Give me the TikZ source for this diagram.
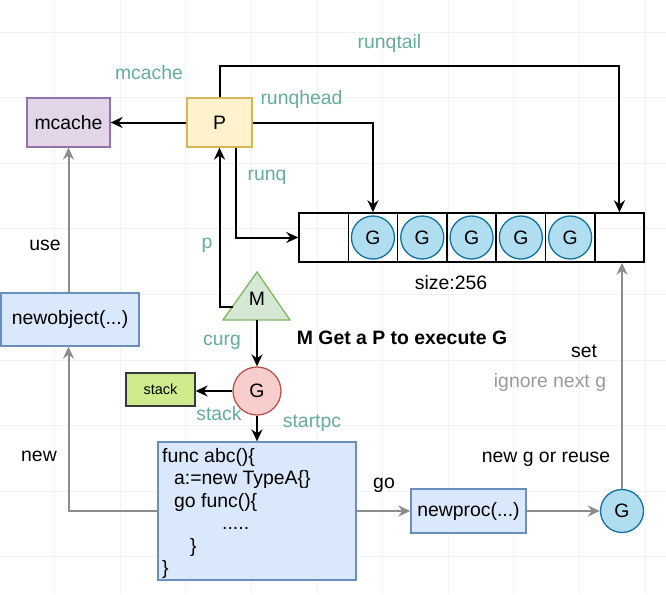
\documentclass[tikz,border=0pt]{standalone}
\usepackage{fontspec}
\setmainfont{Liberation Sans}
\usetikzlibrary{arrows.meta,calc}
\definecolor{lbl}{HTML}{67AB9F}
\definecolor{gline}{HTML}{8C8C8C}
\definecolor{gtext}{HTML}{999999}
\definecolor{gridc}{HTML}{F2F2F2}
\definecolor{mcfill}{HTML}{E1D5E7}\definecolor{mcdraw}{HTML}{9673A6}
\definecolor{pfill}{HTML}{FFF2CC}\definecolor{pdraw}{HTML}{D6B656}
\definecolor{mfill}{HTML}{D5E8D4}\definecolor{mdraw}{HTML}{82B366}
\definecolor{rfill}{HTML}{F8CECC}\definecolor{rdraw}{HTML}{B85450}
\definecolor{sfill}{HTML}{CDEB8B}\definecolor{sdraw}{HTML}{36393D}
\definecolor{bfill}{HTML}{DAE8FC}\definecolor{bdraw}{HTML}{6C8EBF}
\definecolor{gfill}{HTML}{B1DDF0}\definecolor{gdraw}{HTML}{10739E}
\begin{document}
\begin{tikzpicture}[x=1pt,y=-1pt,
  font=\fontsize{19.4}{22.5}\selectfont,
  box/.style={draw, line width=1.3pt, inner sep=0pt},
  cell/.style={draw, line width=1.5pt, minimum width=49.3pt, minimum height=49pt, inner sep=0pt},
  gq/.style={circle, draw=gdraw, fill=gfill, line width=1.3pt, minimum size=43pt, inner sep=0pt},
  lab/.style={text=lbl, inner sep=0pt},
  plain/.style={inner sep=0pt},
  arr/.style={line width=2pt, -{Stealth[length=12pt,width=11pt,inset=4pt]}},
  garr/.style={line width=2pt, draw=gline, -{Stealth[length=12pt,width=11pt,inset=4pt]}},
  codeline/.style={anchor=base west, inner sep=0pt}
]
\useasboundingbox (0,0) rectangle (666,594);
% faint grid
\foreach \k in {0,...,9} \draw[gridc, line width=0.8pt] ({54.6+65.6*\k},0) -- ({54.6+65.6*\k},594);
\foreach \k in {0,...,8} \draw[gridc, line width=0.8pt] (0,{32+65.6*\k}) -- (666,{32+65.6*\k});

% nodes
\node[box, draw=mcdraw, fill=mcfill, minimum width=83pt, minimum height=49pt] (mcache) at (68.5,122.5) {mcache};
\node[box, draw=pdraw, fill=pfill, minimum width=65pt, minimum height=49pt] (P) at (219.5,122.5) {P};
\foreach \i in {1,...,7} \node[cell] (c\i) at ({299+49.3*(\i-0.5)},237.5) {};
\foreach \i in {2,...,6} \node[gq] (g\i) at (c\i) {G};
\node[plain] (size) at (451,283) {size:256};

% M triangle
\draw[draw=mdraw, fill=mfill, line width=1.3pt] (257,272) -- (290,320) -- (223,320) -- cycle;
\node[plain] (M) at (257,299) {M};
\coordinate (mleft) at (232.6,307);
\coordinate (mbot) at (257,320);
\coordinate (tt) at (219.5,66);

\node[circle, draw=rdraw, fill=rfill, line width=1.3pt, minimum size=48pt, inner sep=0pt] (gr) at (257,391) {G};
\node[box, draw=sdraw, fill=sfill, minimum width=69pt, minimum height=33pt, font=\fontsize{14.5}{17}\selectfont] (stack) at (160.5,389.5) {stack};
\node[box, draw=bdraw, fill=bfill, minimum width=198pt, minimum height=138pt] (code) at (257,511) {};
\node[codeline] (cl1) at (162,462) {func abc()\{};
\node[codeline] (cl2) at (174,484.5) {a:=new TypeA\{\}};
\node[codeline] (cl3) at (174,507) {go func()\{};
\node[codeline] (cl4) at (222,529.5) {.....};
\node[codeline] (cl5) at (190,552) {\}};
\node[codeline] (cl6) at (162,574.5) {\}};

\node[box, draw=bdraw, fill=bfill, minimum width=138pt, minimum height=53pt] (newobj) at (70,319.5) {newobject(...)};
\node[box, draw=bdraw, fill=bfill, minimum width=115pt, minimum height=44pt] (newproc) at (468.5,511) {newproc(...)};
\node[gq] (gb) at (622,511) {G};

% labels
\node[lab] (lmc) at (149,73) {mcache};
\node[lab] (ltail) at (389.5,43) {runqtail};
\node[lab] (lhead) at (301.5,99) {runqhead};
\node[lab] (lrunq) at (267,177) {runq};
\node[lab] (lp) at (207,245) {p};
\node[lab] (lcurg) at (222,342) {curg};
\node[lab] (lstack) at (219,414) {stack};
\node[lab] (lstart) at (312,423) {startpc};
\node[plain] (luse) at (45,245) {use};
\node[plain] (lnew) at (39,456) {new};
\node[plain] (lgo) at (384,485) {go};
\node[plain, font=\fontsize{19.4}{22.5}\selectfont\bfseries] (ltitle) at (402,338) {M Get a P to execute G};
\node[plain] (lset) at (584,351) {set};
\node[plain, text=gtext] (lign) at (550,382) {ignore next g};
\node[plain] (lreuse) at (546,459) {new g or reuse};

% connectors
\draw[arr] (P.west) -- (mcache.east);
\draw[arr] (P.north) -- (tt) -| (c7.north);
\draw[arr] (P.east) -| (c2.north);
\draw[arr] ([xshift=16.5pt]P.south) |- (c1.west);
\draw[arr] (mleft) -| (P.south);
\draw[arr] (mbot) -- (gr.north);
\draw[arr] (gr.west) -- (stack.east |- gr.west);
\draw[arr] (gr.south) -- (code.north);
\draw[garr] (newobj.north -| mcache.south) -- (mcache.south);
\draw[garr] (code.west) -| (newobj.south -| mcache.south);
\draw[garr] (code.east) -- (newproc.west);
\draw[garr] (newproc.east) -- (gb.west);
\draw[garr] (gb.north) -- (gb.north |- c7.south);
\end{tikzpicture}
\end{document}
